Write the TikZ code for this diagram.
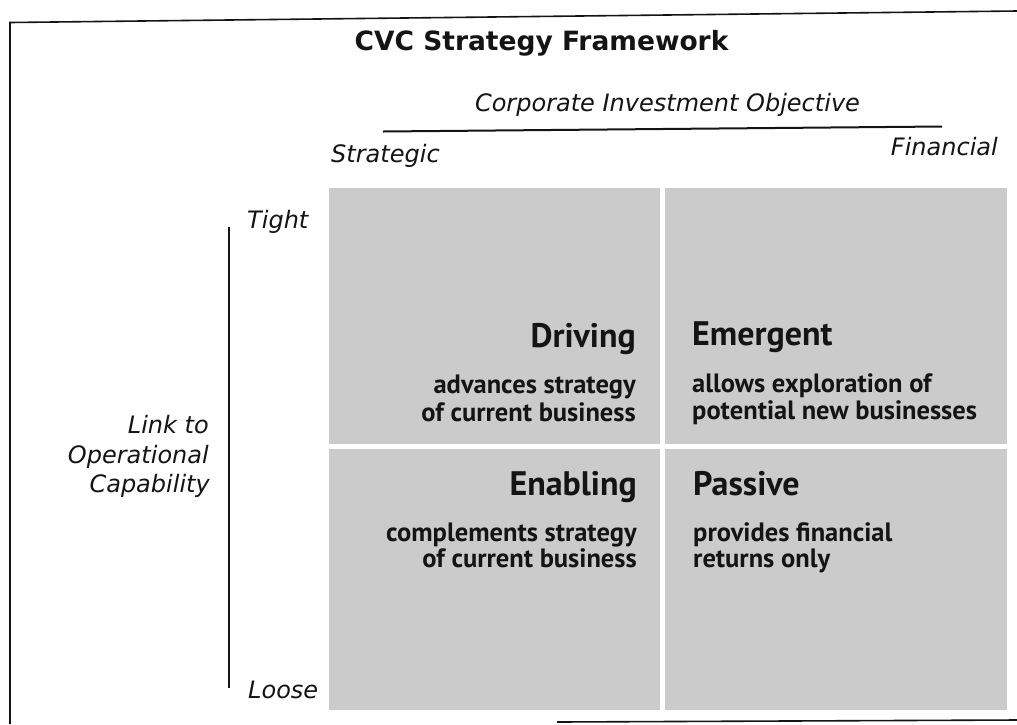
\documentclass[tikz,border=0pt]{standalone}
\usepackage{fontspec}
\setmainfont{DejaVu Sans}
\newfontfamily\quadfont{PT Sans}
\definecolor{quadgray}{RGB}{203,203,203}
\definecolor{ink}{RGB}{20,20,20}
\tikzset{
  frameline/.style={line width=1.6pt, draw=ink},
  axisline/.style={line width=2.2pt, draw=ink},
  quad/.style={fill=quadgray, draw=none},
  titletext/.style={font=\fontsize{26.5}{30}\selectfont\bfseries, text=ink, inner sep=0pt},
  axislabel/.style={font=\fontsize{24}{28}\selectfont\itshape, text=ink, inner sep=0pt},
  quadhead/.style={font=\quadfont\fontsize{34}{36}\selectfont\bfseries, text=ink, inner sep=0pt},
  quaddesc/.style={font=\quadfont\fontsize{26.5}{28}\selectfont\bfseries, text=ink, inner sep=0pt},
}
\begin{document}
\begin{tikzpicture}[x=1pt,y=-1pt]
\useasboundingbox (0,0) rectangle (1017,724);
\fill[white] (0,0) rectangle (1017,724);
% frame (slightly skewed as in the scan)
\coordinate (fbl) at (10,724);
\coordinate (ftl) at (10,22.5);
\coordinate (ftr) at (1017,11);
\coordinate (fbm) at (557,722);
\coordinate (fbr) at (1017,720);
\draw[frameline] (fbl) -- (ftl) -- (ftr);
\draw[frameline] (fbm) -- (fbr);
% title
\node[titletext, anchor=base] (title) at (541.5,50) {CVC Strategy Framework};
% horizontal axis
\node[axislabel, anchor=base] (obj) at (667.5,111) {Corporate Investment Objective};
\coordinate (hl) at (383,131.5);
\coordinate (hr) at (942,126.5);
\draw[axisline, line width=2pt] (hl) -- (hr);
\node[axislabel, anchor=base west] (strat) at (331,162) {Strategic};
\node[axislabel, anchor=base east] (fin) at (998,155) {Financial};
% quadrants
\path[quad] (329,188) rectangle (660,444);
\path[quad] (665,188) rectangle (1007,444);
\path[quad] (329,449) rectangle (660,710);
\path[quad] (665,449) rectangle (1007,710);
% vertical axis
\node[axislabel, anchor=base west] (tight) at (247,228) {Tight};
\node[axislabel, anchor=base west] (loose) at (248,698) {Loose};
\coordinate (vt) at (229,227);
\coordinate (vb) at (229,688);
\draw[axisline] (vt) -- (vb);
\node[axislabel, anchor=base east] (l1) at (209,433) {Link to};
\node[axislabel, anchor=base east] (l2) at (209,463) {Operational};
\node[axislabel, anchor=base east] (l3) at (210,492) {Capability};
% quadrant texts
\node[quadhead, anchor=base east] (drv) at (636,347) {Driving};
\node[quaddesc, anchor=base east] (drv1) at (636,393) {advances strategy};
\node[quaddesc, anchor=base east] (drv2) at (636,421) {of current business};
\node[quadhead, anchor=base west] (emg) at (692,345) {Emergent};
\node[quaddesc, anchor=base west] (emg1) at (692,392) {allows exploration of};
\node[quaddesc, anchor=base west] (emg2) at (692,419) {potential new businesses};
\node[quadhead, anchor=base east] (enb) at (637,495) {Enabling};
\node[quaddesc, anchor=base east] (enb1) at (637,541) {complements strategy};
\node[quaddesc, anchor=base east] (enb2) at (637,567) {of current business};
\node[quadhead, anchor=base west] (pas) at (693,495) {Passive};
\node[quaddesc, anchor=base west] (pas1) at (693,541) {provides financial};
\node[quaddesc, anchor=base west] (pas2) at (693,567) {returns only};
\end{tikzpicture}
\end{document}
